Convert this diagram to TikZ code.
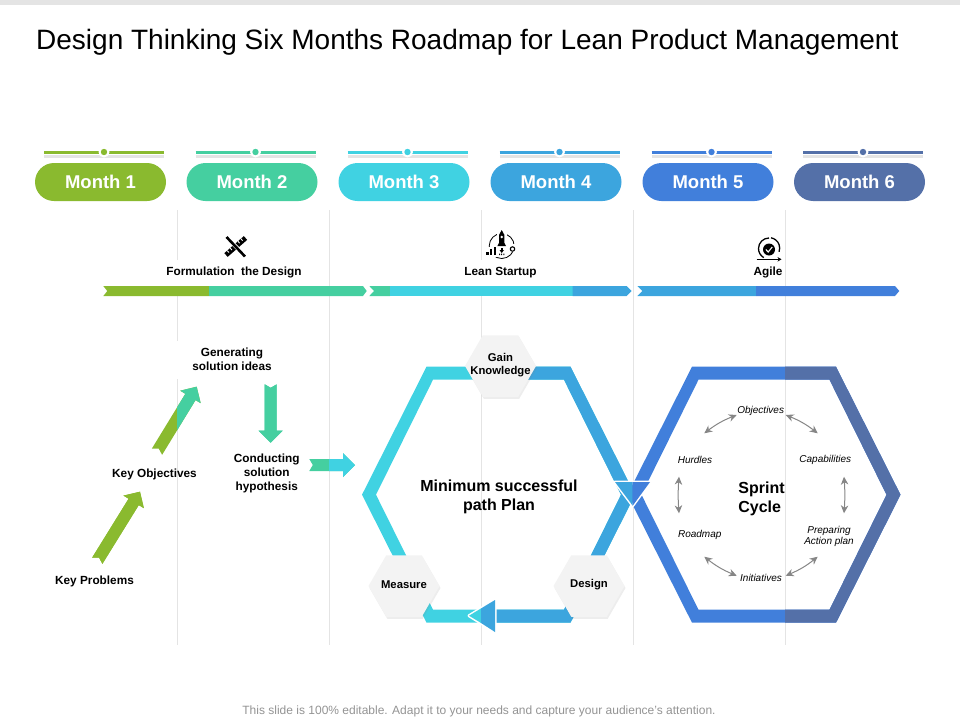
\documentclass[tikz,border=0pt]{standalone}
\usepackage{fontspec}
\setmainfont{Liberation Sans}
\usetikzlibrary{arrows.meta,calc,shadows,shapes.geometric,shapes.misc}
\definecolor{rmgreen}{HTML}{8ABA2F}
\definecolor{rmteal}{HTML}{45CFA0}
\definecolor{rmcyan}{HTML}{40D2E2}
\definecolor{rmblue}{HTML}{3CA5DE}
\definecolor{rmazure}{HTML}{417FDB}
\definecolor{rmnavy}{HTML}{5470A8}
\definecolor{rmline}{HTML}{E4E4E4}
\definecolor{rmhex}{HTML}{F3F3F3}
\newcommand{\hexpath}{(-72,-128) -- (72,-128) -- (136.5,0) -- (72,128) -- (-72,128) -- (-136.5,0) -- cycle
  (-65.5,-115) -- (65.5,-115) -- (122.5,0) -- (65.5,115) -- (-65.5,115) -- (-122.5,0) -- cycle}
\newcommand{\hexring}[4]{%
  \begin{scope}[shift={(#1,494.7)}]
    \fill[#2,even odd rule] \hexpath;
    \begin{scope}
      \clip (#4,-200) rectangle (300,200);
      \fill[#3,even odd rule] \hexpath;
    \end{scope}
  \end{scope}}
\newcommand{\arrowpath}[2]{($(#1)!6pt!90:(#2)$) -- ($(#1)!3.5pt!(#2)$) -- ($(#1)!6pt!-90:(#2)$)
  -- ($(hd)!6pt!-90:(#2)$) -- ($(hd)!12pt!-90:(#2)$) -- (#2)
  -- ($(hd)!12pt!90:(#2)$) -- ($(hd)!6pt!90:(#2)$) -- cycle}
\newcommand{\blockarrow}[5]{%
  \coordinate (hd) at ($(#2)!12pt!(#1)$);
  \fill[#3] \arrowpath{#1}{#2};
  \begin{scope}
    \clip (#5,0) rectangle (960,720);
    \fill[#4] \arrowpath{#1}{#2};
  \end{scope}}
\begin{document}
\begin{tikzpicture}[
  x=1pt,y=-1pt,
  monthpill/.style={rounded rectangle,minimum width=131pt,minimum height=38pt,inner sep=0pt,text=white,font=\fontsize{18.5}{20}\selectfont\bfseries},
  steplabel/.style={align=center,inner sep=0pt,font=\fontsize{11.8}{14}\selectfont\bfseries},
  blocklabel/.style={align=center,inner sep=0pt,font=\fontsize{16}{19}\selectfont\bfseries},
  cyclelabel/.style={align=center,inner sep=0pt,font=\fontsize{10}{11}\selectfont\itshape},
  hexnode/.style={regular polygon,regular polygon sides=6,minimum size=71pt,inner sep=0pt,fill=rmhex,drop shadow={opacity=.14,shadow xshift=1pt,shadow yshift=-2pt}},
  hexlabel/.style={align=center,inner sep=0pt,yshift=1pt,font=\fontsize{11.3}{13}\selectfont\bfseries},
  cyclearrow/.style={{Stealth[length=8pt,width=7.5pt]}-{Stealth[length=8pt,width=7.5pt]},line width=1pt,draw=gray!95}
]
\useasboundingbox (0,0) rectangle (960,720);
\fill[rmline] (0,0) rectangle (960,5);
\node[anchor=west,inner sep=0pt,font=\fontsize{28}{30}\selectfont] (title) at (36,42.5) {Design Thinking Six Months Roadmap for Lean Product Management};

\foreach \x in {177,329,481,633,785}
  \draw[rmline,line width=1pt] (\x,210) -- (\x,645);

\foreach \n/\c/\x in {1/rmgreen/100.5,2/rmteal/252,3/rmcyan/404,4/rmblue/556,5/rmazure/708,6/rmnavy/859.5}{
  \node[monthpill,fill=\c] (month\n) at (\x,182) {Month \n};
  \draw[rmline,line width=3pt] (\x-56.5,156.5) -- (\x+63.5,156.5);
  \draw[\c,line width=3pt] (\x-56.5,152.5) -- (\x+63.5,152.5);
  \fill[white] (\x+3.5,152) circle (5.5);
  \fill[\c] (\x+3.5,152) circle (3.2);
}

% timeline
\fill[rmgreen] (103.3,286) -- (209,286) -- (209,296) -- (103.3,296) -- (107.3,291) -- cycle;
\fill[rmteal] (209,286) -- (363,286) -- (366.7,291) -- (363,296) -- (209,296) -- cycle;
\fill[rmteal] (369.3,286) -- (390,286) -- (390,296) -- (369.3,296) -- (374,291) -- cycle;
\fill[rmcyan] (390,286) rectangle (572.7,296);
\fill[rmblue] (572.7,286) -- (626.7,286) -- (631.7,291) -- (626.7,296) -- (572.7,296) -- cycle;
\fill[rmblue] (637.3,286) -- (756,286) -- (756,296) -- (637.3,296) -- (642.3,291) -- cycle;
\fill[rmazure] (756,286) -- (895,286) -- (899.3,291) -- (895,296) -- (756,296) -- cycle;

\node[steplabel,fill=white,minimum height=26pt] (formdesign) at (234,272.5) {Formulation\ \ the Design};
\node[steplabel,fill=white,minimum height=26pt] (leanstart) at (500.5,272.5) {Lean Startup};
\node[steplabel] (agile) at (768,272.5) {Agile};

% icons
\draw[black,line width=5pt] (226,255) -- (245.5,238);
\foreach \t in {.15,.3,.7,.85}
  \draw[white,line width=.9pt] ($(226,255)!\t!(245.5,238)+(-1.6,-1.8)$) -- ++(1.6,1.9);
\draw[white,line width=4pt] (229,239.5) -- (243,254);
\draw[black,line width=2.6pt] (226.5,237) -- (245,256.5);
\draw[line width=.8pt] (501.7,246) circle (12.5);
\fill[white] (485,247) rectangle (498,257);
\fill[white] (497,228) rectangle (506.5,236);
\fill[black] (501.7,230) -- (504.4,235) -- (504.4,243) -- (506,246) -- (497.4,246) -- (499,243) -- (499,235) -- cycle;
\fill[white] (501.7,237) circle (1.3);
\fill[black] (500.5,247.5) rectangle (503,250.5);
\fill[black] (499.5,250) -- (504,250) -- (501.7,253) -- cycle;
\fill[black] (486,251.5) rectangle (488.5,255);
\fill[black] (489.8,248.5) rectangle (492.3,255);
\fill[black] (493.6,247) rectangle (496.2,255);
\fill[black] (499,253.5) rectangle (500,255) (501.2,253.5) rectangle (502.2,255) (503.4,253.5) rectangle (504.4,255);
\fill[white] (510,244) rectangle (516,252);
\draw[line width=1.1pt] (512.5,249) circle (2.2);
\draw[line width=1.3pt] (769,238) arc[start angle=-90,end angle=-240,radius=10.5];
\draw[line width=1.3pt] (769,238) ++(2,-.2) arc[start angle=-80,end angle=20,radius=10.5];
\fill[black] (769,249.5) circle (6);
\draw[white,line width=1.1pt] (765.8,249.5) -- (768.2,252) -- (772.2,247);
\draw[line width=1.3pt,-{Stealth[length=4pt,width=4.5pt]}] (756.5,259.3) -- (781.5,259.3);

% left steps
\node[steplabel] (keyprob) at (94.5,581.5) {Key Problems};
\node[steplabel] (keyobj) at (154.5,474) {Key Objectives};
\node[steplabel,fill=white,minimum width=114pt,minimum height=38pt] (gensol) at (232,359.5) {Generating\\solution ideas};
\node[steplabel] (condsol) at (266.7,473) {Conducting\\solution\\hypothesis};

\coordinate (probtail) at (97.3,560.7);
\coordinate (probtip) at (140,491.7);
\coordinate (objtail) at (157,451.7);
\coordinate (objtip) at (196.7,386.7);
\coordinate (gentail) at (270.7,384.3);
\coordinate (gentip) at (270.7,442.7);
\coordinate (condtail) at (309.3,465);
\coordinate (condtip) at (355,465);
\blockarrow{probtail}{probtip}{rmgreen}{rmgreen}{0}
\blockarrow{objtail}{objtip}{rmgreen}{rmteal}{177}
\blockarrow{gentail}{gentip}{rmteal}{rmteal}{0}
\blockarrow{condtail}{condtip}{rmteal}{rmcyan}{329}

% hexagons
\hexring{498.5}{rmcyan}{rmblue}{-17.5}
\hexring{764}{rmazure}{rmnavy}{21}

\draw[white,line width=3pt,line join=round] (615,482) -- (650,482) -- (632.7,505.7) -- cycle;
\fill[rmblue] (615,482) -- (632.7,482) -- (632.7,505.7) -- cycle;
\fill[rmazure] (632.7,482) -- (650,482) -- (632.7,505.7) -- cycle;
\draw[white,line width=3pt,line join=round] (469,615.7) -- (495,600) -- (495,632) -- cycle;
\fill[rmcyan] (469,615.7) -- (481,608.45) -- (481,622.95) -- cycle;
\fill[rmblue] (481,608.45) -- (495,600) -- (495,632) -- (481,622.95) -- cycle;

\node[hexnode,label={[hexlabel]center:Gain\\Knowledge}] (gain) at (500.5,366) {};
\node[hexnode,label={[hexlabel]center:Measure}] (measure) at (404,586) {};
\node[hexnode,label={[hexlabel]center:Design}] (design) at (589,586) {};

\node[blocklabel] (minpath) at (499,497) {Minimum successful\\path Plan};
\node[blocklabel,align=left] (sprint) at (761.5,498.5) {Sprint\\Cycle};

% sprint cycle
\node[cyclelabel] (cobj) at (760.7,410.5) {Objectives};
\node[cyclelabel] (ccap) at (825.3,459.5) {Capabilities};
\node[cyclelabel] (cprep) at (829,536) {Preparing\\Action plan};
\node[cyclelabel] (cinit) at (761,577.5) {Initiatives};
\node[cyclelabel] (croad) at (699.7,535) {Roadmap};
\node[cyclelabel] (churd) at (695,459.5) {Hurdles};

\draw[cyclearrow] ([shift={(9.3,-26.2)}]churd.center) to[bend left=8] ([shift={(-24,4.5)}]cobj.center);
\draw[cyclearrow] ([shift={(25,4.5)}]cobj.center) to[bend left=8] ([shift={(-7.6,-26.2)}]ccap.center);
\draw[cyclearrow] ([shift={(18.7,17.2)}]ccap.center) to[bend left=4] ([shift={(15,-22.7)}]cprep.center);
\draw[cyclearrow] ([shift={(-11.3,20.7)}]cprep.center) to[bend left=8] ([shift={(24.7,-1.8)}]cinit.center);
\draw[cyclearrow] ([shift={(-24.3,-1.8)}]cinit.center) to[bend left=8] ([shift={(4.6,21.7)}]croad.center);
\draw[cyclearrow] ([shift={(-20.7,-21.7)}]croad.center) to[bend left=4] ([shift={(-16,17.2)}]churd.center);

\node[inner sep=0pt,text=gray!85,font=\fontsize{12}{14}\selectfont] (footer) at (479,711.5) {This slide is 100\% editable. Adapt it to your needs and capture your audience's attention.};
\end{tikzpicture}
\end{document}
